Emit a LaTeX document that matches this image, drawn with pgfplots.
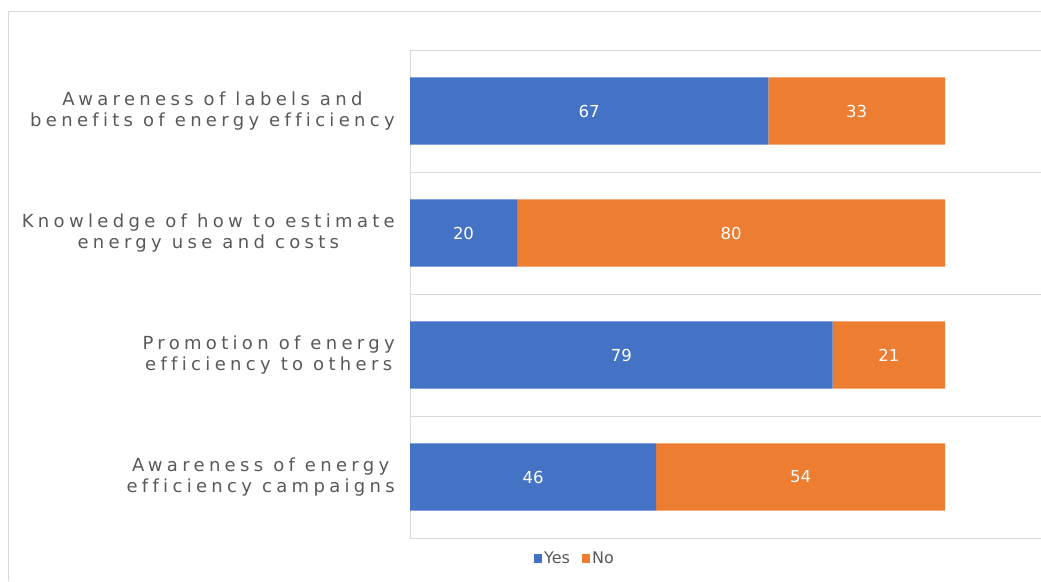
\documentclass[border=0pt]{standalone}
\usepackage{pgfplots}
\pgfplotsset{compat=1.18}
\usepackage{fontspec}
\setmainfont{DejaVu Sans}
\newfontfamily\lblfont[LetterSpace=24,Ligatures=NoCommon]{DejaVu Sans}
\definecolor{txt}{RGB}{89,89,89}
\definecolor{yesblue}{RGB}{68,114,196}
\definecolor{noorange}{RGB}{237,125,49}
\definecolor{gridc}{RGB}{217,217,217}
\begin{document}
\begin{tikzpicture}
\begin{axis}[
  at={(410pt,43pt)}, anchor=south west,
  scale only axis, width=642pt, height=488pt,
  xbar stacked, bar width=0.55,
  xmin=0, xmax=120, ymin=-0.5, ymax=3.5,
  enlarge x limits=false, enlarge y limits=false,
  xtick=\empty,
  ytick={0,1,2,3},
  yticklabels={{Awareness of energy\\efficiency campaigns},{Promotion of energy\\efficiency to others},{Knowledge of how to estimate\\energy use and costs},{Awareness of labels and\\benefits of energy efficiency}},
  yticklabel style={align=center, text=txt, font={\lblfont\fontsize{18}{21}\selectfont}, inner sep=0pt, xshift=-15pt},
  major tick length=0pt, minor tick length=0pt,
  minor ytick={-0.5,0.5,1.5,2.5,3.5},
  yminorgrids, minor y grid style={draw=gridc, line width=1pt},
  axis line style={draw=none},
  point meta=explicit,
  nodes near coords={\pgfmathprintnumber[assume math mode=true]{\pgfplotspointmeta}},
  every node near coord/.append style={text=white, font={\fontsize{16.5}{19}\selectfont}, anchor=center},
  legend style={at={(0.257,-0.041)}, anchor=center, draw=none, legend columns=2, font={\fontsize{16}{19}\selectfont}, text=txt, inner sep=0pt, /tikz/every even column/.append style={column sep=10pt}},
  legend image code/.code={\fill[#1] (4pt,-4.5pt) rectangle (12pt,4.5pt);},
]
\addplot[fill=yesblue, draw=none] coordinates {(46,0) [46] (79,1) [79] (20,2) [20] (67,3) [67]};
\addplot[fill=noorange, draw=none] coordinates {(54,0) [54] (21,1) [21] (80,2) [80] (33,3) [33]};
\legend{Yes,No}
\draw[gridc, line width=1pt] (rel axis cs:0,0) -- (rel axis cs:0,1);
\end{axis}
\draw[gridc, line width=1pt] (8pt,0pt) -- (8pt,569pt) -- (1045pt,569pt);
\pgfresetboundingbox
\path[use as bounding box] (0pt,0pt) rectangle (1041pt,581pt);
\end{tikzpicture}
\end{document}
